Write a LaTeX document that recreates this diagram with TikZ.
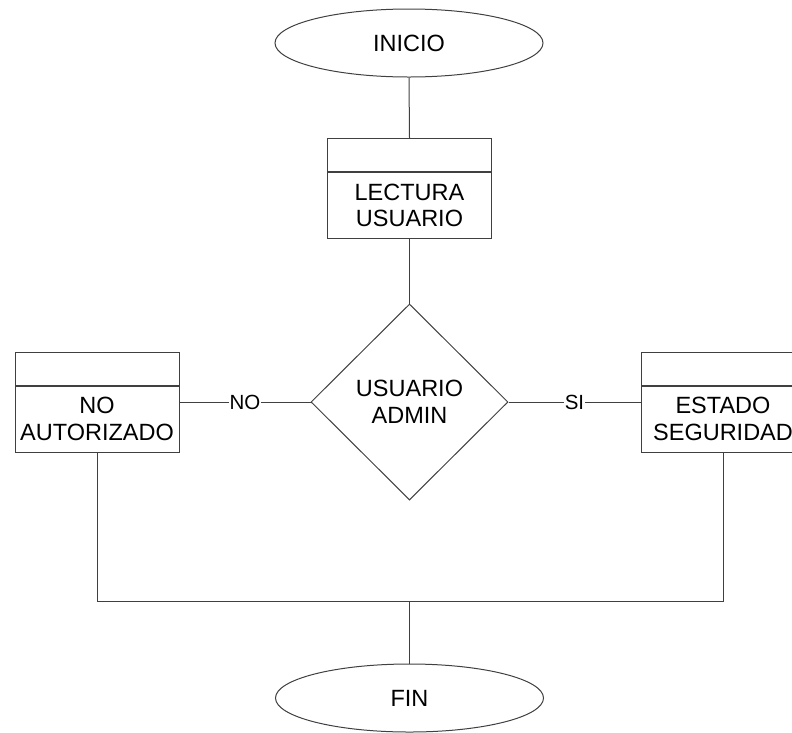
\documentclass[tikz,border=0pt]{standalone}
\usepackage{fontspec}
\setmainfont{Liberation Sans}
\usetikzlibrary{shapes.geometric}

\tikzset{
  ln/.style={draw=black!75, line width=1pt},
  txt/.style={font=\fontsize{23.5}{26.7}\selectfont},
  term/.style={ln, txt, ellipse, minimum width=268, minimum height=68, inner sep=0pt},
  procbody/.style={ln, txt, rectangle, minimum width=164, minimum height=66, inner sep=0pt,
    align=center},
  prochead/.style={ln, rectangle, minimum width=164, minimum height=33, inner sep=0pt},
  decide/.style={ln, txt, diamond, minimum width=197, minimum height=196, inner sep=0pt,
    align=center},
  lbl/.style={fill=white, inner sep=1pt, font=\fontsize{20.5}{23}\selectfont},
}

\begin{document}
\begin{tikzpicture}[x=1pt, y=-1pt]
  \useasboundingbox (0,0) rectangle (792,732);
  \clip (0,0) rectangle (792,732);

  % start / end terminals
  \node[term] (inicio) at (409,43) {INICIO};
  \node[term] (fin) at (409.5,698) {FIN};

  % read user
  \node[procbody] (lect) at (409.5,205.5) {LECTURA\\USUARIO};
  \node[prochead, anchor=south] (lecth) at (lect.north) {};

  % decision
  \node[decide] (adm) at (409.5,402) {USUARIO\\ADMIN};

  % outcomes
  \node[procbody] (nob) at (97,419) {NO\\AUTORIZADO};
  \node[prochead, anchor=south] (noh) at (nob.north) {};
  \node[procbody] (esb) at (723,419) {ESTADO\\SEGURIDAD};
  \node[prochead, anchor=south] (esh) at (esb.north) {};

  \coordinate (jm) at (409.5,601);

  % connectors
  \draw[ln] (inicio.south) -- (lecth.north);
  \draw[ln] (lect.south) -- (adm.north);
  \draw[ln] (adm.west) -- node[lbl] {NO} (adm.west -| nob.east);
  \draw[ln] (adm.east) -- node[lbl] {SI} (adm.east -| esb.west);
  \draw[ln] (nob.south) |- (jm) -| (esb.south);
  \draw[ln] (jm) -- (fin.north);
\end{tikzpicture}
\end{document}
